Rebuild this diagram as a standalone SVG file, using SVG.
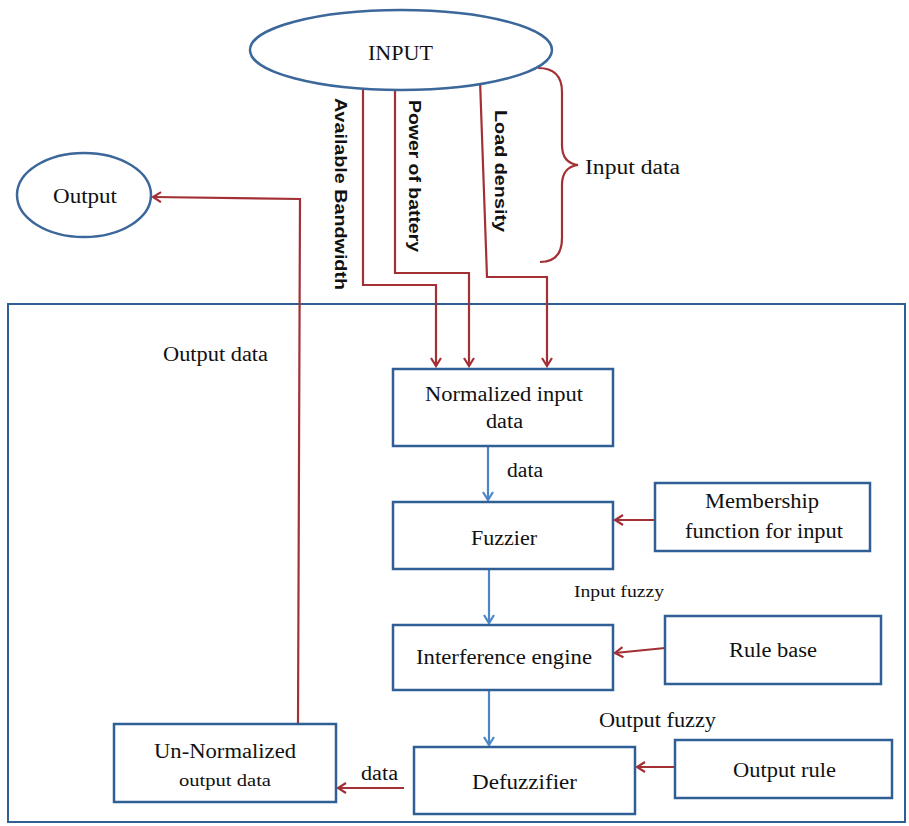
<svg xmlns="http://www.w3.org/2000/svg" width="909" height="826" viewBox="0 0 909 826">
<style>
.box{fill:#fff;stroke:#2f5f95;stroke-width:2.5}
.ell{fill:#fff;stroke:#3b679b;stroke-width:2.5}
.frame{fill:none;stroke:#2f5f95;stroke-width:2}
.t{font-family:"Liberation Serif",serif;font-size:20px;fill:#111}
.ts{font-family:"Liberation Serif",serif;font-size:16px;fill:#111}
.v{font-family:"Liberation Sans",Arial,sans-serif;font-size:17px;font-weight:bold;fill:#111}
.red{fill:none;stroke:#a33035;stroke-width:2.2}
.blue{fill:none;stroke:#4a86c8;stroke-width:2.2}
</style>
<defs>
<marker id="ar" markerWidth="12" markerHeight="12" refX="10" refY="6" orient="auto" markerUnits="userSpaceOnUse">
<path d="M2,1 L10,6 L2,11" fill="none" stroke="#a33035" stroke-width="2.2"/>
</marker>
<marker id="ab" markerWidth="12" markerHeight="12" refX="10" refY="6" orient="auto" markerUnits="userSpaceOnUse">
<path d="M2,1 L10,6 L2,11" fill="none" stroke="#4a86c8" stroke-width="2.2"/>
</marker>
</defs>

<rect class="frame" x="8" y="304" width="897" height="518"/>

<g id="connectors">
<path class="red" d="M363,88 L363,285 L436,285 L436,366" marker-end="url(#ar)"/>
<path class="red" d="M395,88 L395,273 L469,273 L469,366" marker-end="url(#ar)"/>
<path class="red" d="M480,80 L487,277 L547,277 L547,366" marker-end="url(#ar)"/>
<path class="red" d="M298,724 L300,199 L153,197" marker-end="url(#ar)"/>
<path class="blue" d="M488,446 L488,500" marker-end="url(#ab)"/>
<path class="red" d="M655,520 L615,520" marker-end="url(#ar)"/>
<path class="blue" d="M489,570 L489,623" marker-end="url(#ab)"/>
<path class="red" d="M665,648 L615,653" marker-end="url(#ar)"/>
<path class="blue" d="M489,690 L489,745" marker-end="url(#ab)"/>
<path class="red" d="M675,767 L637,767" marker-end="url(#ar)"/>
<path class="red" d="M404,788 L338,788" marker-end="url(#ar)"/>
<path class="red" d="M538,68 Q562,68 562,92 L562,145 Q562,163 578,165 Q562,167 562,185 L562,238 Q562,262 540,262"/>
</g>

<g id="input">
<ellipse class="ell" cx="401" cy="50" rx="151" ry="40"/>
<text class="t" x="368" y="60" textLength="65" lengthAdjust="spacingAndGlyphs" style="font-size:22px">INPUT</text>
</g>
<g id="output">
<ellipse class="ell" cx="84" cy="195" rx="67" ry="42"/>
<text class="t" x="53" y="203" textLength="64" lengthAdjust="spacingAndGlyphs">Output</text>
</g>

<g id="labels">
<text class="v" transform="translate(335,98) rotate(90)" textLength="192" lengthAdjust="spacingAndGlyphs">Available Bandwidth</text>
<text class="v" transform="translate(409,100) rotate(90)" textLength="152" lengthAdjust="spacingAndGlyphs">Power of battery</text>
<text class="v" transform="translate(495,110) rotate(90)" textLength="122" lengthAdjust="spacingAndGlyphs">Load density</text>
<text class="t" x="585" y="174" textLength="95" lengthAdjust="spacingAndGlyphs">Input data</text>
<text class="t" x="163" y="361" textLength="105" lengthAdjust="spacingAndGlyphs">Output data</text>
<text class="t" x="507" y="477" textLength="36" lengthAdjust="spacingAndGlyphs">data</text>
<text class="ts" x="574" y="597" textLength="90" lengthAdjust="spacingAndGlyphs">Input fuzzy</text>
<text class="t" x="599" y="727" textLength="117" lengthAdjust="spacingAndGlyphs">Output fuzzy</text>
<text class="t" x="361" y="780" textLength="37" lengthAdjust="spacingAndGlyphs">data</text>
</g>

<g id="normalized">
<rect class="box" x="393" y="369" width="220" height="77"/>
<text class="t" x="425" y="401" textLength="158" lengthAdjust="spacingAndGlyphs">Normalized input</text>
<text class="t" x="486" y="428" textLength="37" lengthAdjust="spacingAndGlyphs">data</text>
</g>
<g id="fuzzier">
<rect class="box" x="393" y="502" width="220" height="67"/>
<text class="t" x="471" y="545" textLength="66" lengthAdjust="spacingAndGlyphs">Fuzzier</text>
</g>
<g id="membership">
<rect class="box" x="655" y="483" width="215" height="68"/>
<text class="t" x="705" y="508" textLength="114" lengthAdjust="spacingAndGlyphs">Membership</text>
<text class="t" x="685" y="538" textLength="158" lengthAdjust="spacingAndGlyphs">function for input</text>
</g>
<g id="interference">
<rect class="box" x="393" y="625" width="220" height="65"/>
<text class="t" x="416" y="664" textLength="176" lengthAdjust="spacingAndGlyphs">Interference engine</text>
</g>
<g id="rulebase">
<rect class="box" x="665" y="616" width="216" height="68"/>
<text class="t" x="729" y="657" textLength="88" lengthAdjust="spacingAndGlyphs">Rule base</text>
</g>
<g id="defuzzifier">
<rect class="box" x="414" y="747" width="221" height="67"/>
<text class="t" x="472" y="789" textLength="105" lengthAdjust="spacingAndGlyphs">Defuzzifier</text>
</g>
<g id="outputrule">
<rect class="box" x="675" y="740" width="217" height="58"/>
<text class="t" x="733" y="777" textLength="103" lengthAdjust="spacingAndGlyphs">Output rule</text>
</g>
<g id="unnormalized">
<rect class="box" x="114" y="724" width="222" height="78"/>
<text class="t" x="154" y="758" textLength="142" lengthAdjust="spacingAndGlyphs">Un-Normalized</text>
<text class="ts" x="179" y="786" textLength="92" lengthAdjust="spacingAndGlyphs">output data</text>
</g>
</svg>
